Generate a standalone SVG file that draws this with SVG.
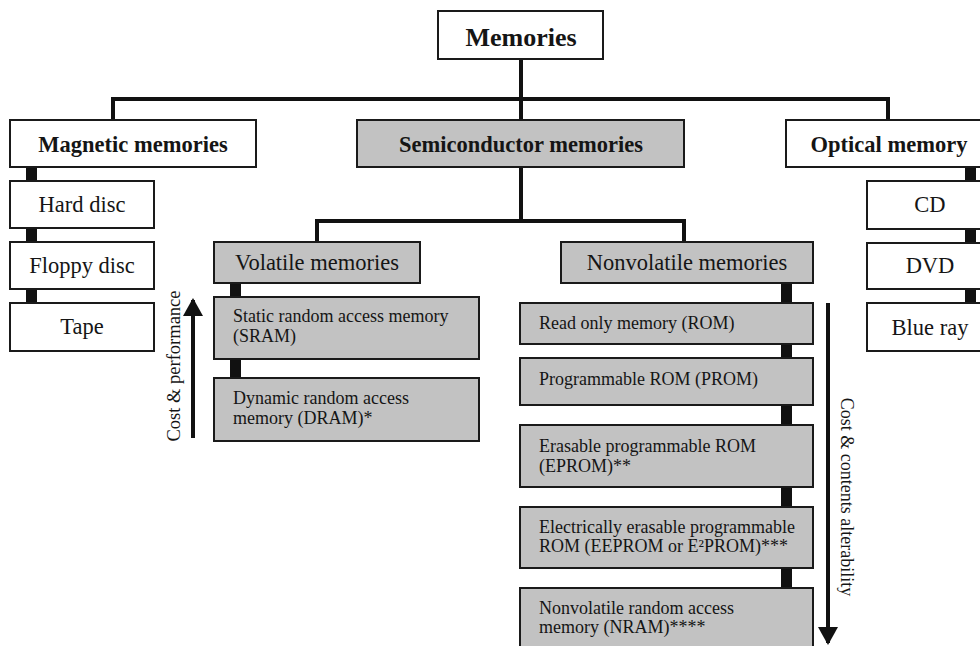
<svg xmlns="http://www.w3.org/2000/svg" width="980" height="646" viewBox="0 0 980 646">
<defs>
<style>
.box{fill:#fff;stroke:#1a1a1a;stroke-width:2}
.g{fill:#c2c2c2;stroke:#1a1a1a;stroke-width:2}
text{font-family:"Liberation Serif","Times New Roman",serif;fill:#151515}
.b{font-weight:bold;font-size:22.5px;text-anchor:middle}
.t{font-size:22.5px;text-anchor:middle}
.s{font-size:18px}
.ln{fill:none;stroke:#111;stroke-width:4}
.bar{fill:#111}
</style>
<marker id="ah" markerWidth="5" markerHeight="5" refX="4" refY="2.5" orient="auto" markerUnits="strokeWidth">
<path d="M0,0 L4.5,2.5 L0,5 Z" fill="#111"/>
</marker>
</defs>
<rect width="980" height="646" fill="#fff"/>

<g id="connectors">
<path class="ln" d="M521,59 V119 M113,119 V99 H888 V120"/>
<path class="ln" d="M521,167 V221 M317,242 V221 H684 V242"/>
<rect class="bar" x="26" y="167" width="11" height="14"/>
<rect class="bar" x="26" y="228" width="11" height="14"/>
<rect class="bar" x="26" y="289" width="11" height="14"/>
<rect class="bar" x="965" y="167" width="11" height="14"/>
<rect class="bar" x="965" y="229" width="11" height="14"/>
<rect class="bar" x="965" y="289" width="11" height="14"/>
<rect class="bar" x="230" y="283" width="11" height="14"/>
<rect class="bar" x="230" y="359" width="11" height="19"/>
<rect class="bar" x="781" y="283" width="11" height="20"/>
<rect class="bar" x="781" y="344" width="11" height="14"/>
<rect class="bar" x="781" y="405" width="11" height="20"/>
<rect class="bar" x="781" y="487" width="11" height="20"/>
<rect class="bar" x="781" y="568" width="11" height="20"/>
<line x1="193" y1="438" x2="193" y2="300" stroke="#111" stroke-width="4" marker-end="url(#ah)"/>
<line x1="828" y1="303" x2="828" y2="643" stroke="#111" stroke-width="4" marker-end="url(#ah)"/>
</g>

<g id="memories"><rect class="box" x="438" y="11" width="165" height="48"/><text class="b" x="521" y="46" style="font-size:26px">Memories</text></g>

<g id="magnetic"><rect class="box" x="10" y="120" width="246" height="47"/><text class="b" x="133" y="152">Magnetic memories</text></g>
<g id="semiconductor"><rect class="g" x="357" y="120" width="327" height="47"/><text class="b" x="521" y="152">Semiconductor memories</text></g>
<g id="optical"><rect class="box" x="786" y="120" width="206" height="47"/><text class="b" x="889" y="152">Optical memory</text></g>

<g id="harddisc"><rect class="box" x="10" y="181" width="144" height="47"/><text class="t" x="82" y="212">Hard disc</text></g>
<g id="floppy"><rect class="box" x="10" y="242" width="144" height="47"/><text class="t" x="82" y="273">Floppy disc</text></g>
<g id="tape"><rect class="box" x="10" y="303" width="144" height="48"/><text class="t" x="82" y="334">Tape</text></g>

<g id="cd"><rect class="box" x="867" y="181" width="126" height="48"/><text class="t" x="930" y="212">CD</text></g>
<g id="dvd"><rect class="box" x="867" y="243" width="126" height="46"/><text class="t" x="930" y="273">DVD</text></g>
<g id="blueray"><rect class="box" x="867" y="303" width="126" height="48"/><text class="t" x="930" y="335">Blue ray</text></g>

<g id="volatile"><rect class="g" x="214" y="242" width="206" height="41"/><text class="t" x="317" y="270">Volatile memories</text></g>
<g id="nonvolatile"><rect class="g" x="561" y="242" width="252" height="41"/><text class="t" x="687" y="270">Nonvolatile memories</text></g>

<g id="sram"><rect class="g" x="214" y="297" width="265" height="62"/><text class="s" x="233" y="322">Static random access memory</text><text class="s" x="233" y="342">(SRAM)</text></g>
<g id="dram"><rect class="g" x="214" y="378" width="265" height="63"/><text class="s" x="233" y="404">Dynamic random access</text><text class="s" x="233" y="424">memory (DRAM)*</text></g>

<g id="rom"><rect class="g" x="520" y="303" width="293" height="41"/><text class="s" x="539" y="329">Read only memory (ROM)</text></g>
<g id="prom"><rect class="g" x="520" y="358" width="293" height="47"/><text class="s" x="539" y="385">Programmable ROM (PROM)</text></g>
<g id="eprom"><rect class="g" x="520" y="425" width="293" height="62"/><text class="s" x="539" y="452">Erasable programmable ROM</text><text class="s" x="539" y="472">(EPROM)**</text></g>
<g id="eeprom"><rect class="g" x="520" y="507" width="293" height="61"/><text class="s" x="539" y="533">Electrically erasable programmable</text><text class="s" x="539" y="552">ROM (EEPROM or E²PROM)***</text></g>
<g id="nram"><rect class="g" x="520" y="588" width="293" height="64"/><text class="s" x="539" y="614">Nonvolatile random access</text><text class="s" x="539" y="633">memory (NRAM)****</text></g>

<g id="labels">
<text class="s" style="font-size:18.5px" text-anchor="middle" transform="translate(180,366) rotate(-90)">Cost &amp; performance</text>
<text class="s" text-anchor="middle" transform="translate(841,497) rotate(90)">Cost &amp; contents alterability</text>
</g>
</svg>
